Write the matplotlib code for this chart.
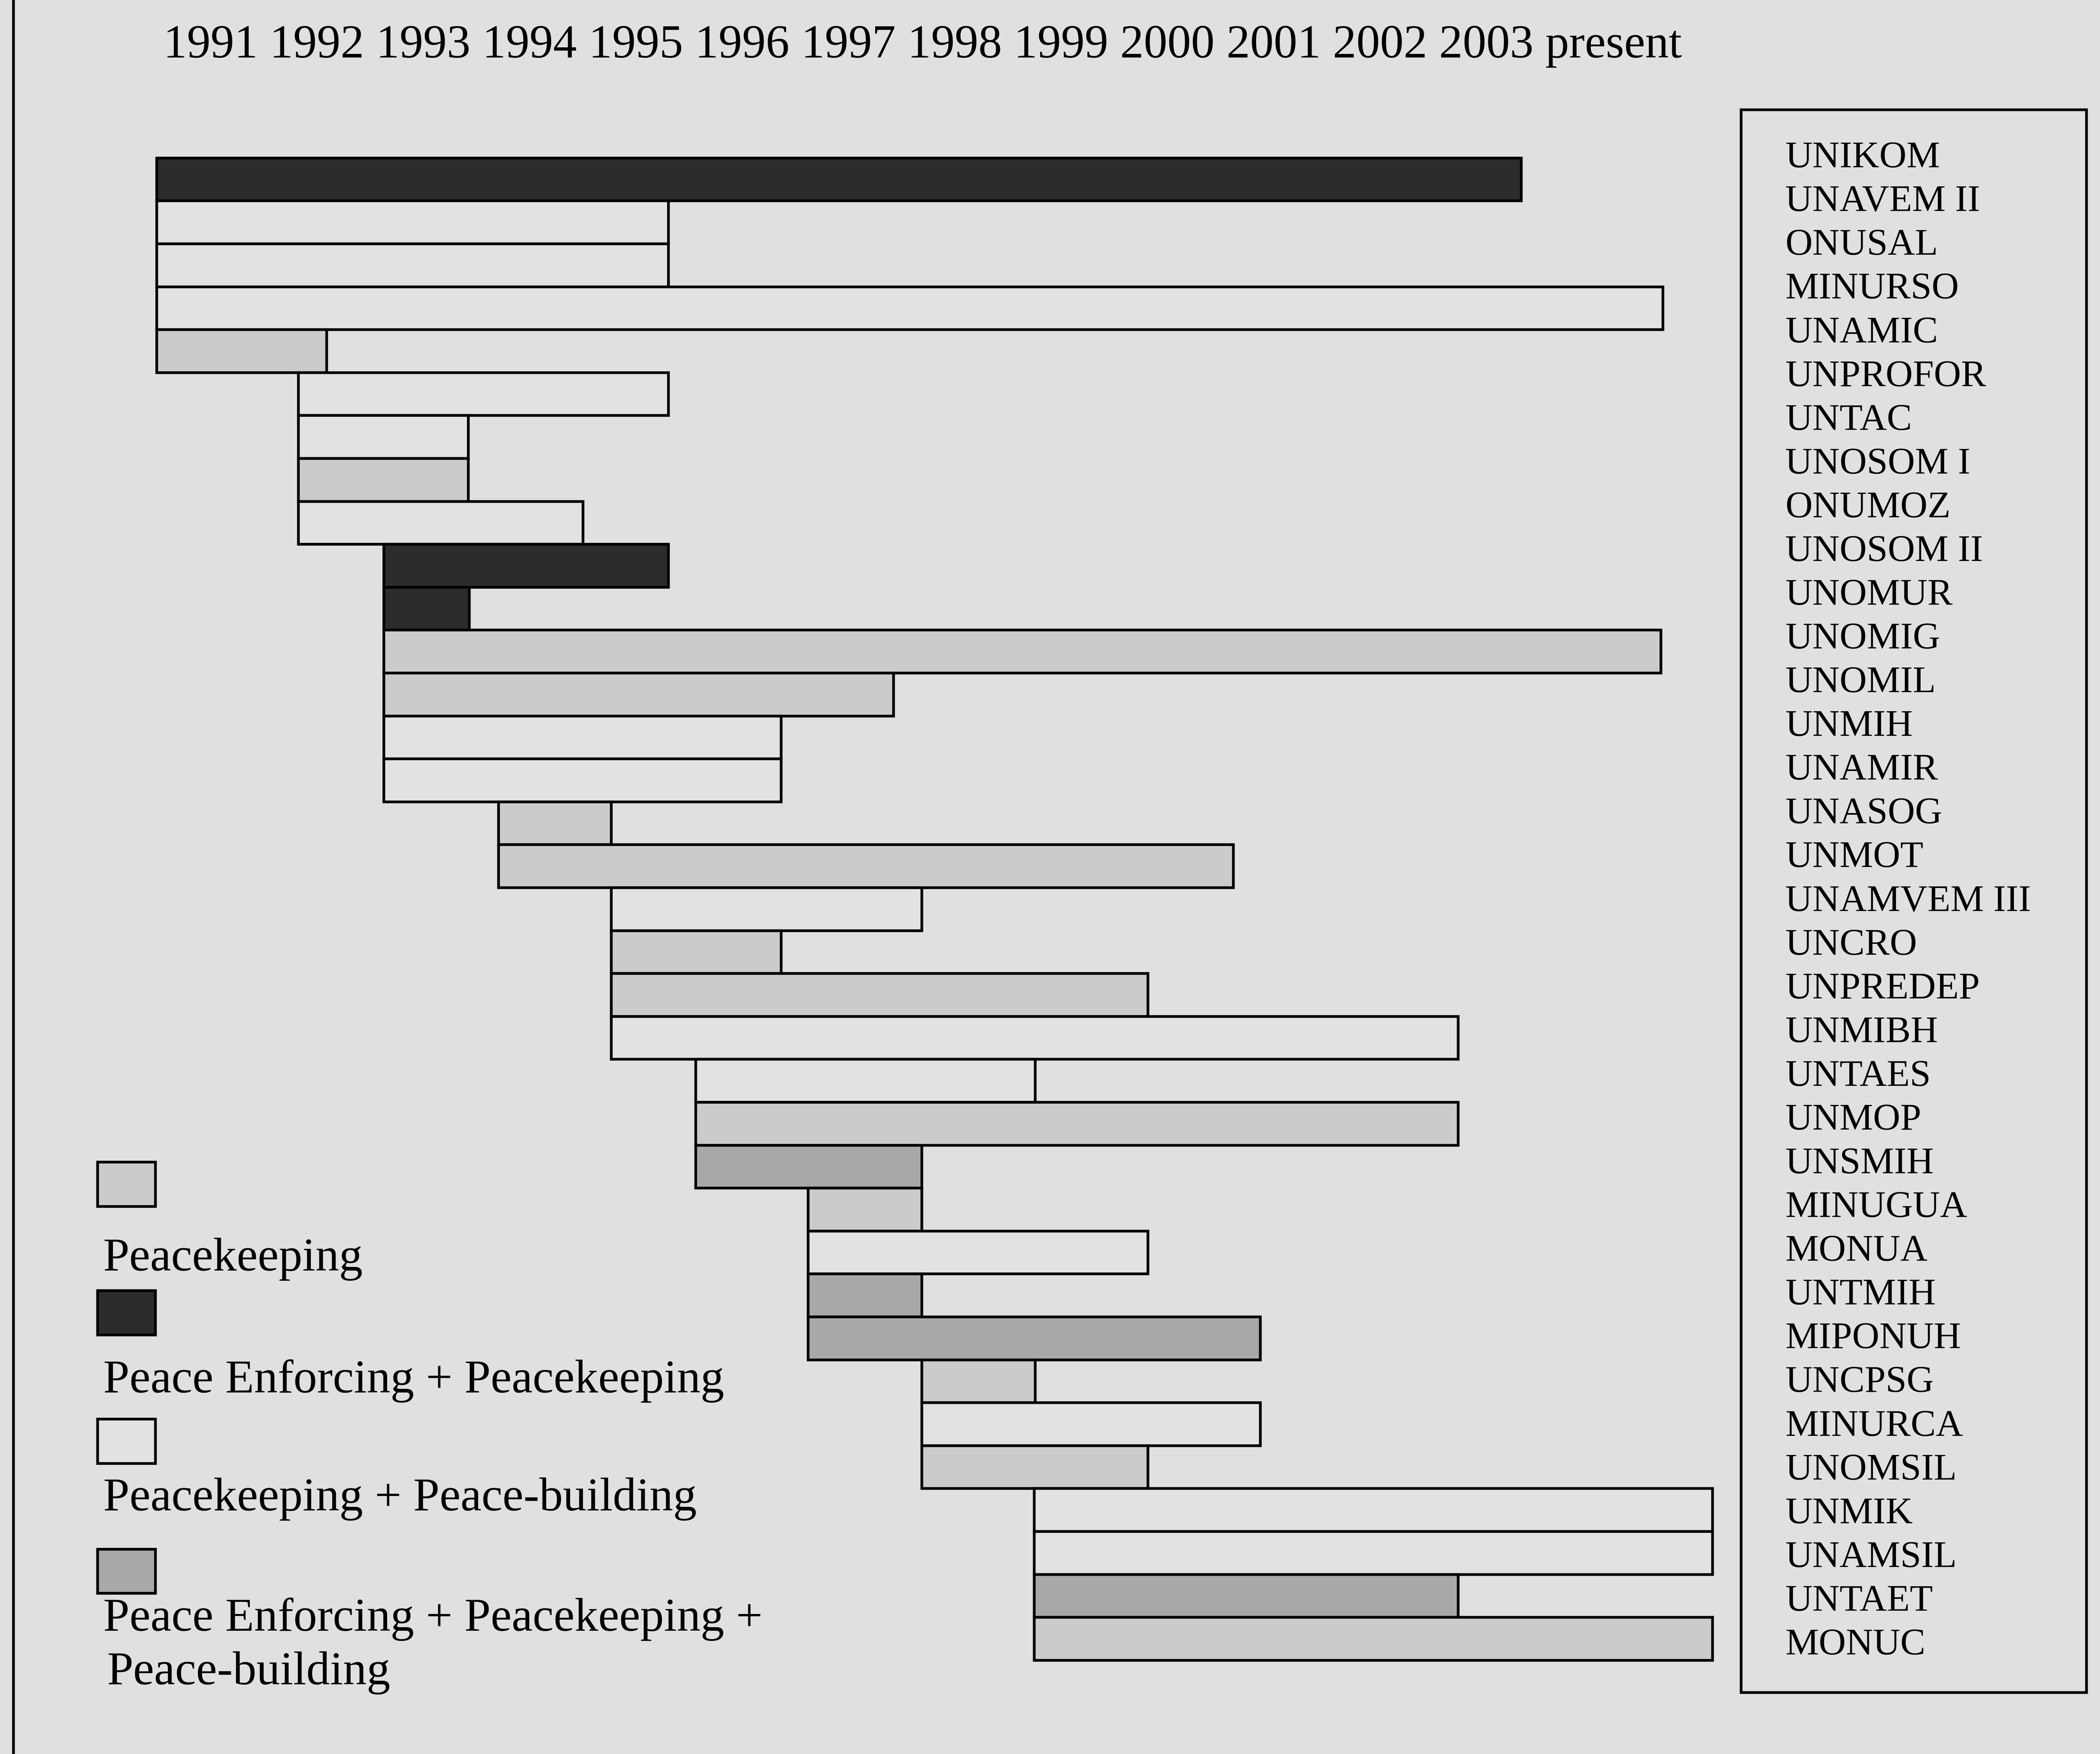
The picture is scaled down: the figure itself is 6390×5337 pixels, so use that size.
import numpy as np
import matplotlib
matplotlib.use("Agg")
import matplotlib.pyplot as plt
from matplotlib.patches import Rectangle
from matplotlib.lines import Line2D

# mission rows, top to bottom
missions = ['UNIKOM', 'UNAVEM II', 'ONUSAL', 'MINURSO', 'UNAMIC', 'UNPROFOR',
            'UNTAC', 'UNOSOM I', 'ONUMOZ', 'UNOSOM II', 'UNOMUR', 'UNOMIG',
            'UNOMIL', 'UNMIH', 'UNAMIR', 'UNASOG', 'UNMOT', 'UNAMVEM III',
            'UNCRO', 'UNPREDEP', 'UNMIBH', 'UNTAES', 'UNMOP', 'UNSMIH',
            'MINUGUA', 'MONUA', 'UNTMIH', 'MIPONUH', 'UNCPSG', 'MINURCA',
            'UNOMSIL', 'UNMIK', 'UNAMSIL', 'UNTAET', 'MONUC']

start_year = [1991.00, 1991.00, 1991.00, 1991.00, 1991.00, 1992.26, 1992.26,
              1992.26, 1992.26, 1993.02, 1993.02, 1993.02, 1993.02, 1993.02,
              1993.02, 1994.04, 1994.04, 1995.04, 1995.04, 1995.04, 1995.04,
              1995.79, 1995.79, 1995.79, 1996.79, 1996.79, 1996.79, 1996.79,
              1997.80, 1997.80, 1997.80, 1998.80, 1998.80, 1998.80, 1998.80]

end_year = [2003.13, 1995.55, 1995.55, 2004.39, 1992.51, 1995.55, 1993.77,
            1993.77, 1994.79, 1995.55, 1993.78, 2004.37, 1997.55, 1996.55,
            1996.55, 1995.04, 2000.57, 1997.80, 1996.55, 1999.81, 2002.57,
            1998.81, 2002.57, 1997.80, 1997.80, 1999.81, 1997.80, 2000.81,
            1998.81, 2000.81, 1999.81, 2004.83, 2004.83, 2002.57, 2004.83]

mission_type = ['PE+PK', 'PK+PB', 'PK+PB', 'PK+PB', 'PK', 'PK+PB', 'PK+PB',
                'PK', 'PK+PB', 'PE+PK', 'PE+PK', 'PK', 'PK', 'PK+PB', 'PK+PB',
                'PK', 'PK', 'PK+PB', 'PK', 'PK', 'PK+PB', 'PK+PB', 'PK',
                'PE+PK+PB', 'PK', 'PK+PB', 'PE+PK+PB', 'PE+PK+PB', 'PK',
                'PK+PB', 'PK', 'PK+PB', 'PK+PB', 'PE+PK+PB', 'PK']

year_labels = ['1991', '1992', '1993', '1994', '1995', '1996', '1997', '1998',
               '1999', '2000', '2001', '2002', '2003', 'present']

legend_types = ['PK', 'PE+PK', 'PK+PB', 'PE+PK+PB']
legend_labels = ['Peacekeeping',
                 'Peace Enforcing + Peacekeeping',
                 'Peacekeeping + Peace-building',
                 'Peace Enforcing + Peacekeeping +\nPeace-building']

BG = '#e0e0e0'
type_colors = {'PK': '#cbcbcb', 'PE+PK': '#2c2c2c',
               'PK+PB': '#e2e2e2', 'PE+PK+PB': '#a8a8a8'}
SERIF = ['Liberation Serif', 'DejaVu Serif']

# layout is worked out on a 1568 x 1310 grid
W, H = 1568.0, 1310.0


def fx(px):
    return px / W


def fy(py):
    return 1.0 - py / H


fig = plt.figure(figsize=(21.3, 17.79), dpi=300, facecolor=BG)

# bars
ax = fig.add_axes([fx(117), fy(1240), fx(1293) - fx(117), fy(118) - fy(1240)])
ax.set_facecolor(BG)
ax.set_xlim(1991, 2005)
ax.set_ylim(len(missions), 0)
ax.axis('off')

widths = [e - s for s, e in zip(start_year, end_year)]
bars = ax.barh(np.arange(len(missions)), widths, left=start_year, height=1.0,
               align='edge', color=[type_colors[t] for t in mission_type],
               edgecolor='black', linewidth=2.0)
for b in bars:
    b.set_clip_on(False)

# year header
fig.text(fx(122), fy(43), ' '.join(year_labels), fontsize=34.5,
         family=SERIF, va='baseline', ha='left')

# name box on the right
fig.add_artist(Rectangle((fx(1300), fy(1264)), fx(1558) - fx(1300),
                         fy(82) - fy(1264), fill=False, edgecolor='black',
                         linewidth=2.0, transform=fig.transFigure))
baselines = np.linspace(125, 1235.6, len(missions))
for name, yb in zip(missions, baselines):
    fig.text(fx(1333), fy(yb), name, fontsize=27.5, family=SERIF,
             va='baseline', ha='left')

# legend, square above each label
sq_tops = [868, 964, 1060, 1157]
txt_base = [949, 1040, 1128, 1218]
for t, lab, top, base in zip(legend_types, legend_labels, sq_tops, txt_base):
    fig.add_artist(Rectangle((fx(73), fy(top + 33)), fx(116) - fx(73),
                             fy(top) - fy(top + 33), facecolor=type_colors[t],
                             edgecolor='black', linewidth=2.0,
                             transform=fig.transFigure))
    for k, line in enumerate(lab.split('\n')):
        fig.text(fx(77 + 3 * k), fy(base + 40 * k), line, fontsize=34.5,
                 family=SERIF, va='baseline', ha='left')

# scan frame line on the left edge
fig.add_artist(Line2D([fx(10), fx(10)], [0, 1], color='black', linewidth=2,
                      transform=fig.transFigure))

fig.savefig('out.png', dpi=300, facecolor=BG)
